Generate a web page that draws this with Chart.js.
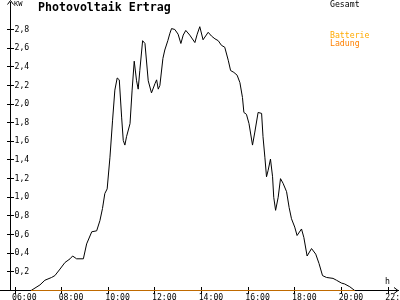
<!DOCTYPE html>
<html>
<head>
<meta charset="utf-8">
<script src="https://cdn.jsdelivr.net/npm/chart.js@4.4.1/dist/chart.umd.min.js"></script>
<style>
  html, body { margin: 0; padding: 0; background: #fff; }
</style>
</head>
<body>
<canvas id="myChart" width="400" height="300"></canvas>
<script>
// time of day in decimal hours, power in kW
const gesamtTimes = [6.69, 7.07, 7.28, 7.57, 7.71, 7.93, 8.14, 8.36, 8.47, 8.64,
    8.93, 9.07, 9.29, 9.50, 9.64, 9.75, 9.85, 9.95, 10.07, 10.18,
    10.28, 10.38, 10.47, 10.57, 10.64, 10.71, 10.78, 10.93, 11.02, 11.11,
    11.21, 11.28, 11.35, 11.47, 11.57, 11.71, 11.85, 12.00, 12.07, 12.14,
    12.21, 12.34, 12.42, 12.55, 12.64, 12.71, 12.85, 12.99, 13.11, 13.21,
    13.32, 13.49, 13.71, 13.81, 13.92, 14.06, 14.28, 14.42, 14.57, 14.71,
    14.85, 14.99, 15.14, 15.24, 15.38, 15.52, 15.64, 15.75, 15.81, 15.92,
    16.03, 16.18, 16.28, 16.42, 16.57, 16.63, 16.71, 16.78, 16.85, 16.95,
    17.04, 17.09, 17.17, 17.28, 17.38, 17.49, 17.64, 17.75, 17.85, 17.99,
    18.09, 18.28, 18.38, 18.52, 18.71, 18.89, 19.03, 19.18, 19.35, 19.63,
    19.78, 19.99, 20.13, 20.35, 20.56];
const gesamtKW = [0, 0.06, 0.11, 0.14, 0.16, 0.23, 0.30, 0.34, 0.37, 0.34,
    0.34, 0.50, 0.63, 0.64, 0.75, 0.88, 1.04, 1.09, 1.43, 1.82,
    2.15, 2.28, 2.26, 1.86, 1.61, 1.56, 1.65, 1.79, 2.15, 2.46,
    2.25, 2.16, 2.36, 2.68, 2.65, 2.25, 2.12, 2.22, 2.26, 2.16,
    2.20, 2.49, 2.58, 2.68, 2.76, 2.81, 2.80, 2.75, 2.65, 2.74,
    2.79, 2.74, 2.66, 2.75, 2.83, 2.69, 2.77, 2.73, 2.70, 2.68,
    2.63, 2.61, 2.47, 2.36, 2.34, 2.31, 2.23, 2.07, 1.91, 1.89,
    1.79, 1.56, 1.70, 1.91, 1.90, 1.65, 1.43, 1.22, 1.29, 1.41,
    1.22, 1.00, 0.86, 1.00, 1.20, 1.15, 1.06, 0.89, 0.77, 0.68,
    0.59, 0.66, 0.57, 0.37, 0.45, 0.39, 0.29, 0.16, 0.14, 0.13,
    0.11, 0.08, 0.07, 0.04, 0];
const speicherTimes = [6.69, 20.56];
const batterieKW = [0, 0];
const ladungKW = [0, 0];

const xTickValues = [6, 8, 10, 12, 14, 16, 18, 20, 22];
const yTickValues = [0.2, 0.4, 0.6, 0.8, 1.0, 1.2, 1.4, 1.6, 1.8, 2.0, 2.2, 2.4, 2.6, 2.8];

const MONO = '"DejaVu Sans Mono", "Liberation Mono", monospace';

function toPoints(times, values) {
    return times.map((t, i) => ({ x: t, y: values[i] }));
}

function pad2(n) {
    return (n < 10 ? '0' : '') + n;
}

// axis ticks crossing the axis lines, arrows, and the free texts
const decoPlugin = {
    id: 'deco',
    beforeDatasetsDraw(chart) {
        const ctx = chart.ctx;
        const a = chart.chartArea;
        const xs = chart.scales.x, ys = chart.scales.y;
        ctx.save();
        ctx.strokeStyle = '#000';
        ctx.lineWidth = 1;
        ctx.beginPath();
        yTickValues.forEach(v => {
            const py = Math.floor(ys.getPixelForValue(v)) + 0.5;
            ctx.moveTo(7, py);
            ctx.lineTo(14, py);
        });
        xTickValues.forEach(v => {
            const px = Math.floor(xs.getPixelForValue(v)) + 0.5;
            ctx.moveTo(px, a.bottom - 3.5);
            ctx.lineTo(px, a.bottom + 3.5);
        });
        // x axis runs a little left of the y axis
        ctx.moveTo(0, a.bottom);
        ctx.lineTo(a.left, a.bottom);
        // arrow heads
        ctx.moveTo(a.left - 3, 4.5);
        ctx.lineTo(a.left, 0.5);
        ctx.lineTo(a.left + 3, 4.5);
        ctx.moveTo(a.right - 4, a.bottom - 3);
        ctx.lineTo(a.right, a.bottom);
        ctx.lineTo(a.right - 4, a.bottom + 3);
        ctx.stroke();
        ctx.restore();
    },
    afterDraw(chart) {
        const ctx = chart.ctx;
        ctx.save();
        ctx.textBaseline = 'middle';
        ctx.textAlign = 'left';
        ctx.fillStyle = '#000';
        ctx.font = 'bold 11.6px ' + MONO;
        ctx.fillText('Photovoltaik Ertrag', 38, 7.5);
        ctx.font = '7px ' + MONO;
        ctx.fillText('KW', 14, 4);
        ctx.font = '8.2px ' + MONO;
        ctx.fillText('h', 385, 281.5);
        // legend
        const legendY = [4.5, 36, 44];
        chart.data.datasets.forEach((ds, i) => {
            ctx.fillStyle = ds.borderColor;
            ctx.fillText(ds.label, 330, legendY[i]);
        });
        ctx.restore();
    }
};

const ctx = document.getElementById('myChart').getContext('2d');
const myChart = new Chart(ctx, {
    type: 'line',
    data: {
        datasets: [
            {
                label: 'Gesamt',
                data: toPoints(gesamtTimes, gesamtKW),
                borderColor: '#000000',
                borderWidth: 1,
                pointRadius: 0,
                tension: 0,
                order: 3
            },
            {
                label: 'Batterie',
                data: toPoints(speicherTimes, batterieKW),
                borderColor: '#FFAA00',
                borderWidth: 1,
                pointRadius: 0,
                order: 2
            },
            {
                label: 'Ladung',
                data: toPoints(speicherTimes, ladungKW),
                borderColor: '#FF8000',
                borderWidth: 1.2,
                pointRadius: 0,
                order: 1
            }
        ]
    },
    options: {
        responsive: false,
        animation: false,
        events: [],
        layout: { padding: { top: 2, right: 2, left: 0, bottom: 0 } },
        plugins: {
            legend: { display: false },
            tooltip: { enabled: false },
            title: { display: false }
        },
        scales: {
            x: {
                type: 'linear',
                position: 'bottom',
                min: 5.807,
                max: 22.416,
                afterBuildTicks: s => { s.ticks = xTickValues.map(v => ({ value: v })); },
                afterFit: s => {
                    s.height = 9.5;
                    s.paddingLeft = 0; s.paddingRight = 0;
                },
                grid: { display: false, drawTicks: false },
                border: { display: true, color: '#000', width: 1 },
                ticks: {
                    autoSkip: false,
                    maxRotation: 0,
                    align: 'start',
                    labelOffset: -3,
                    padding: 2,
                    color: '#000',
                    font: { family: MONO, size: 8.2 },
                    callback: v => pad2(v) + ':00'
                }
            },
            y: {
                type: 'linear',
                position: 'left',
                min: 0,
                max: 3.095,
                afterBuildTicks: s => { s.ticks = yTickValues.map(v => ({ value: v })); },
                afterFit: s => {
                    s.width = 10.5;
                    s.paddingTop = 0; s.paddingBottom = 0;
                },
                grid: { display: false, drawTicks: false },
                border: { display: true, color: '#000', width: 1 },
                ticks: {
                    mirror: true,
                    padding: 4,
                    color: '#000',
                    font: { family: MONO, size: 8.2 },
                    callback: v => v.toFixed(1).replace('.', ',')
                }
            }
        }
    },
    plugins: [decoPlugin]
});
</script>
</body>
</html>
